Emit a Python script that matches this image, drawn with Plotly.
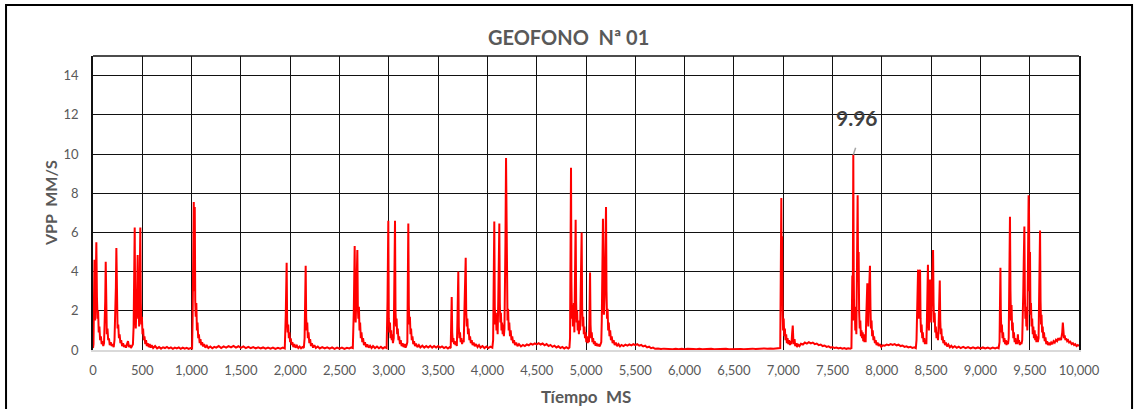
import plotly.graph_objects as go

# ---- Data ----
time_ms = [
    0, 5, 10, 15, 22, 28, 34, 40, 46, 52, 58, 65, 72, 80, 88, 96, 104, 112, 118, 124, 129, 134, 140, 147, 154, 162, 170, 180, 190, 200, 210,
    218, 226, 232, 237, 243, 249, 256, 263, 270, 278, 286, 295, 305, 315, 325, 335, 345, 355, 365, 375, 385, 395, 405,
    412, 418, 423, 428, 434, 440, 447, 453, 458, 463, 468, 474, 480, 485, 490, 496, 502, 508, 515, 522, 530, 538, 546, 555, 565, 575, 585, 595,
    610, 630, 650, 670, 690, 710, 730, 750, 770, 790, 810, 830, 850, 870, 890, 910, 930, 950, 970, 990, 1005,
    1010, 1016, 1022, 1027, 1032, 1037, 1042, 1048, 1054, 1060, 1067, 1074, 1082, 1090, 1098, 1107, 1117, 1127, 1140, 1155, 1170, 1190, 1210, 1230,
    1250, 1275, 1300, 1325, 1350, 1375, 1400, 1425, 1450, 1475, 1500, 1525, 1550, 1575, 1600, 1625, 1650, 1675, 1700, 1725, 1750, 1775, 1800, 1825,
    1850, 1875, 1900, 1925, 1945,
    1955, 1960, 1964, 1969, 1974, 1980, 1986, 1992, 1999, 2006, 2014, 2022, 2032, 2042, 2055, 2068, 2082, 2096, 2110, 2124, 2138,
    2146, 2151, 2157, 2162, 2167, 2173, 2179, 2186, 2194, 2202, 2211, 2220, 2232, 2245, 2260, 2280, 2300, 2325, 2350, 2375, 2400, 2425, 2450,
    2475, 2500, 2525, 2550, 2575, 2600, 2620, 2635,
    2645, 2650, 2654, 2659, 2664, 2670, 2675, 2681, 2686, 2691, 2697, 2703, 2709, 2716, 2723, 2731, 2739, 2748, 2758, 2770, 2782, 2796, 2810,
    2825, 2840, 2860, 2880, 2900, 2920, 2940, 2960, 2978,
    2987, 2991, 2995, 3000, 3006, 3012, 3018, 3024, 3030, 3036, 3042, 3050, 3056, 3063, 3068, 3073, 3079, 3085, 3091, 3098, 3105, 3113, 3121,
    3130, 3140, 3150, 3160, 3170, 3180, 3188, 3193, 3198, 3203, 3208, 3214, 3220, 3226, 3233, 3240, 3248, 3256, 3266, 3276, 3290, 3305, 3320,
    3340, 3360, 3380, 3400, 3420, 3440, 3460, 3480, 3500, 3520, 3540, 3560, 3580, 3600, 3615, 3628,
    3633, 3638, 3643, 3649, 3655, 3662, 3669, 3676, 3684, 3690, 3696, 3701, 3705, 3710, 3716, 3722, 3729, 3736, 3743, 3752, 3760, 3766, 3771,
    3776, 3780, 3785, 3791, 3797, 3803, 3810, 3817, 3824, 3832, 3841, 3850, 3860, 3872, 3885, 3900, 3915, 3930, 3950, 3970, 3990, 4010, 4030,
    4050, 4058,
    4063, 4067, 4070, 4075, 4080, 4086, 4092, 4098, 4104, 4110, 4116, 4121, 4126, 4131, 4137, 4143, 4149, 4155, 4161, 4167, 4173, 4178, 4183,
    4189, 4194, 4199, 4204, 4210, 4216, 4222, 4229, 4236, 4244, 4252, 4261, 4270, 4280, 4292, 4305, 4320, 4340, 4360, 4380, 4400, 4420, 4440,
    4460, 4480, 4500, 4520, 4540, 4560, 4580, 4600, 4620, 4640, 4660, 4680, 4700, 4720, 4740, 4760, 4780, 4800, 4820, 4832, 4838,
    4842, 4845, 4848, 4852, 4857, 4862, 4867, 4872, 4877, 4882, 4887, 4891, 4895, 4900, 4905, 4910, 4916, 4922, 4928, 4934, 4940, 4946, 4951,
    4956, 4961, 4966, 4972, 4978, 4984, 4990, 4996, 5003, 5010, 5017, 5024, 5030, 5035, 5041, 5046, 5052, 5058, 5065, 5072, 5080, 5088, 5097,
    5106, 5116, 5126, 5136, 5146, 5155, 5160, 5166, 5172, 5177, 5182, 5188, 5194, 5198, 5203, 5208, 5213, 5219, 5225, 5231, 5238, 5245, 5253,
    5261, 5270, 5280, 5291, 5303, 5316, 5330, 5345, 5360, 5380, 5400, 5420, 5440, 5460, 5480, 5500, 5520, 5540, 5560, 5580, 5600, 5620, 5640,
    5660, 5680, 5700, 5730, 5760, 5790, 5820, 5850, 5880, 5910, 5940, 5970, 6000, 6030, 6060, 6090, 6120, 6150, 6180, 6210, 6240, 6270, 6300,
    6330, 6360, 6390, 6420, 6450, 6480, 6510, 6540, 6570, 6600, 6630, 6660, 6690, 6720, 6750, 6780, 6810, 6840, 6870, 6900, 6930, 6960, 6970,
    6975, 6978, 6981, 6985, 6989, 6994, 6999, 7005, 7011, 7017, 7023, 7030, 7037, 7044, 7052, 7060, 7068, 7076, 7084, 7090, 7097, 7102, 7108,
    7115, 7122, 7130, 7140, 7150, 7165, 7180, 7200, 7220, 7240, 7260, 7280, 7300, 7320, 7340, 7360, 7380, 7400, 7420, 7440, 7460, 7480, 7500,
    7520, 7540, 7560, 7580, 7600, 7620, 7640, 7660, 7680, 7692,
    7697, 7701, 7705, 7708, 7711, 7715, 7720, 7726, 7731, 7737, 7742, 7746, 7750, 7755, 7760, 7765, 7770, 7776, 7782, 7788, 7794, 7800, 7806,
    7812, 7818, 7824, 7830, 7836, 7842, 7848, 7853, 7858, 7863, 7868, 7874, 7880, 7885, 7890, 7896, 7902, 7908, 7915, 7922, 7930, 7938, 7947,
    7957, 7968, 7980, 7994, 8010, 8030, 8050, 8070, 8090, 8110, 8130, 8150, 8170, 8190, 8210, 8230, 8250, 8270, 8290, 8310, 8330, 8345, 8352,
    8358, 8363, 8368, 8373, 8378, 8383, 8388, 8393, 8398, 8404, 8410, 8416, 8423, 8430, 8437, 8444, 8452, 8458, 8463, 8468, 8473, 8478, 8484,
    8490, 8496, 8502, 8508, 8514, 8520, 8525, 8530, 8536, 8542, 8548, 8555, 8562, 8570, 8576, 8582, 8588, 8593, 8598, 8604, 8610, 8617, 8624,
    8632, 8641, 8650, 8662, 8675, 8690, 8705, 8720, 8740, 8760, 8780, 8800, 8825, 8850, 8875, 8900, 8925, 8950, 8975, 9000, 9025, 9050, 9075,
    9100, 9125, 9150, 9170, 9185, 9194,
    9199, 9203, 9207, 9212, 9218, 9224, 9230, 9237, 9244, 9251, 9258, 9265, 9272, 9280, 9287, 9292, 9296, 9300, 9305, 9310, 9316, 9322, 9328,
    9334, 9340, 9347, 9354, 9361, 9368, 9374, 9380, 9385, 9392, 9400, 9408, 9416, 9424, 9430, 9435, 9440, 9446, 9451, 9456, 9461, 9466, 9471,
    9476, 9480, 9484, 9489, 9493, 9498, 9503, 9508, 9513, 9519, 9525, 9531, 9537, 9543, 9550, 9556, 9562, 9568, 9575, 9582, 9590, 9595, 9600,
    9605, 9610, 9615, 9620, 9626, 9632, 9638, 9645, 9652, 9660, 9668, 9677, 9686, 9696, 9706, 9718, 9730, 9742, 9754, 9766, 9778, 9790, 9800,
    9810, 9818, 9824, 9830, 9836, 9842, 9848, 9855, 9862, 9870, 9880, 9890, 9900, 9912, 9925, 9938, 9950, 9962, 9975, 9988, 10000,
]

vpp_mm_s = [
    0.1, 0.3, 2.6, 4.6, 1.5, 3.0, 5.5, 2.7, 1.6, 2.0, 0.9, 1.2, 0.5, 0.7, 0.3, 0.45, 0.2, 0.35, 1.3, 2.5, 4.5, 1.4, 0.8, 1.1, 0.5, 0.6, 0.25, 0.4, 0.2, 0.3, 0.15,
    0.5, 1.8, 3.2, 5.2, 1.8, 1.1, 1.3, 0.6, 0.8, 0.35, 0.5, 0.2, 0.35, 0.15, 0.25, 0.12, 0.3, 0.45, 0.15, 0.25, 0.1, 0.2, 0.3,
    1.2, 3.5, 6.25, 2.0, 1.1, 2.2, 3.0, 4.85, 1.6, 2.3, 1.2, 3.3, 6.25, 2.4, 1.3, 1.7, 0.8, 1.1, 0.5, 0.7, 0.3, 0.5, 0.2, 0.35, 0.15, 0.3, 0.12, 0.25,
    0.1, 0.2, 0.08, 0.15, 0.07, 0.14, 0.1, 0.16, 0.08, 0.13, 0.06, 0.12, 0.08, 0.13, 0.06, 0.12, 0.07, 0.11, 0.06, 0.1, 0.08,
    1.5, 5.5, 7.55, 3.0, 7.3, 2.5, 1.7, 2.4, 1.0, 1.4, 0.6, 0.8, 0.35, 0.55, 0.25, 0.4, 0.18, 0.3, 0.12, 0.22, 0.1, 0.18, 0.09, 0.16,
    0.12, 0.2, 0.1, 0.18, 0.12, 0.2, 0.13, 0.21, 0.12, 0.19, 0.11, 0.18, 0.1, 0.16, 0.09, 0.15, 0.08, 0.14, 0.08, 0.13, 0.07, 0.12, 0.07, 0.12,
    0.06, 0.11, 0.07, 0.12, 0.08,
    1.8, 3.5, 4.45, 1.5, 0.9, 1.3, 0.6, 0.9, 0.4, 0.6, 0.25, 0.4, 0.15, 0.3, 0.12, 0.22, 0.1, 0.18, 0.09, 0.15, 0.1,
    0.6, 2.6, 4.3, 1.7, 1.0, 1.4, 0.6, 0.9, 0.35, 0.55, 0.2, 0.35, 0.12, 0.25, 0.1, 0.18, 0.08, 0.15, 0.08, 0.14, 0.07, 0.13, 0.06,
    0.12, 0.07, 0.12, 0.06, 0.11, 0.08, 0.13, 0.1,
    2.0, 4.0, 5.3, 2.0, 1.4, 2.6, 3.8, 5.1, 2.2, 1.6, 2.2, 1.0, 1.4, 0.6, 0.9, 0.4, 0.6, 0.25, 0.4, 0.15, 0.28, 0.12, 0.22,
    0.1, 0.2, 0.1, 0.18, 0.09, 0.16, 0.08, 0.15, 0.1,
    2.5, 5.0, 6.6, 1.6, 0.9, 1.4, 0.6, 1.0, 0.5, 0.8, 0.35, 0.6, 3.8, 6.6, 2.0, 1.2, 1.6, 0.8, 1.1, 0.5, 0.7, 0.3, 0.5,
    0.2, 0.35, 0.15, 0.3, 0.12, 0.25, 0.4, 3.5, 6.45, 2.3, 1.3, 1.7, 0.8, 1.1, 0.5, 0.7, 0.3, 0.45, 0.2, 0.32, 0.15, 0.25, 0.13,
    0.22, 0.12, 0.2, 0.13, 0.21, 0.12, 0.2, 0.13, 0.2, 0.12, 0.18, 0.1, 0.16, 0.08, 0.14, 0.1,
    1.4, 2.7, 0.9, 0.4, 0.6, 0.3, 0.45, 0.25, 0.4, 0.2, 1.5, 2.8, 4.0, 1.2, 0.6, 0.9, 0.4, 0.6, 0.3, 0.5, 0.4, 1.8, 3.5,
    4.2, 4.7, 2.0, 1.2, 1.6, 0.8, 1.1, 0.5, 0.7, 0.35, 0.5, 0.25, 0.38, 0.2, 0.3, 0.15, 0.25, 0.12, 0.2, 0.1, 0.18, 0.1, 0.17,
    0.12, 0.5,
    3.0, 5.2, 6.55, 2.2, 1.3, 1.9, 1.0, 1.5, 0.8, 2.5, 4.8, 6.45, 2.4, 1.4, 1.9, 1.0, 1.4, 0.8, 1.3, 0.7, 1.1, 2.5, 5.5,
    9.8, 5.3, 2.5, 1.5, 2.1, 1.0, 1.4, 0.7, 1.0, 0.5, 0.7, 0.35, 0.5, 0.25, 0.38, 0.2, 0.3, 0.18, 0.26, 0.2, 0.28, 0.24, 0.32,
    0.27, 0.34, 0.29, 0.35, 0.28, 0.33, 0.24, 0.3, 0.2, 0.26, 0.16, 0.22, 0.13, 0.19, 0.1, 0.16, 0.08, 0.14, 0.08, 0.13, 0.6,
    4.0, 7.5, 9.3, 3.5, 1.6, 2.3, 1.2, 1.8, 2.4, 0.9, 2.8, 4.8, 6.65, 2.5, 1.4, 2.0, 1.0, 1.5, 0.8, 1.4, 1.0, 3.0, 4.5,
    6.0, 2.2, 1.2, 1.7, 0.8, 1.2, 0.6, 0.9, 0.4, 0.7, 0.35, 0.6, 0.4, 1.6, 3.95, 1.3, 0.6, 0.9, 0.4, 0.6, 0.3, 0.45, 0.22,
    0.35, 0.2, 0.3, 0.18, 0.28, 0.4, 1.5, 4.5, 6.7, 2.5, 1.8, 2.7, 4.0, 5.5, 7.3, 3.0, 1.6, 2.1, 1.0, 1.4, 0.7, 1.0, 0.5,
    0.7, 0.35, 0.5, 0.25, 0.38, 0.2, 0.3, 0.18, 0.26, 0.2, 0.27, 0.22, 0.29, 0.24, 0.3, 0.25, 0.3, 0.22, 0.26, 0.18, 0.22, 0.13, 0.17,
    0.09, 0.12, 0.06, 0.08, 0.05, 0.07, 0.05, 0.06, 0.04, 0.06, 0.04, 0.06, 0.04, 0.06, 0.04, 0.05, 0.04, 0.06, 0.04, 0.05, 0.04, 0.06, 0.04,
    0.05, 0.05, 0.04, 0.06, 0.04, 0.05, 0.04, 0.06, 0.05, 0.04, 0.06, 0.05, 0.07, 0.05, 0.07, 0.06, 0.08, 0.06, 0.08, 0.06, 0.08, 0.07, 0.1,
    3.5, 6.0, 7.75, 3.0, 5.8, 2.0, 1.0, 1.6, 0.7, 1.1, 0.5, 0.8, 0.35, 0.6, 0.3, 0.5, 0.25, 0.45, 0.3, 0.8, 1.25, 0.6, 0.3,
    0.55, 0.2, 0.35, 0.15, 0.28, 0.2, 0.32, 0.28, 0.38, 0.33, 0.4, 0.34, 0.38, 0.3, 0.33, 0.25, 0.28, 0.2, 0.23, 0.16, 0.19, 0.12, 0.15,
    0.1, 0.13, 0.08, 0.11, 0.07, 0.1, 0.06, 0.09, 0.07, 0.1,
    2.0, 3.8, 1.5, 5.0, 9.96, 4.0, 1.5, 2.2, 1.0, 1.4, 0.8, 3.0, 5.5, 7.9, 3.5, 5.0, 2.0, 1.1, 1.5, 0.7, 1.0, 0.6, 0.9,
    0.45, 0.8, 0.4, 0.6, 0.4, 1.6, 2.8, 3.4, 2.0, 1.2, 2.6, 3.6, 4.3, 2.2, 1.1, 1.5, 0.7, 1.0, 0.5, 0.7, 0.35, 0.5, 0.25,
    0.38, 0.2, 0.3, 0.16, 0.24, 0.22, 0.28, 0.25, 0.3, 0.26, 0.3, 0.24, 0.27, 0.2, 0.23, 0.16, 0.19, 0.13, 0.16, 0.11, 0.14, 0.1, 0.5,
    2.0, 3.3, 4.1, 1.6, 2.5, 4.1, 4.1, 1.6, 0.9, 1.3, 0.6, 0.9, 0.4, 0.6, 0.3, 0.5, 0.3, 1.6, 3.2, 4.35, 1.5, 1.0, 2.5,
    3.6, 2.2, 1.4, 3.0, 4.2, 5.1, 2.4, 1.4, 1.9, 0.9, 1.2, 0.6, 0.9, 0.5, 1.2, 2.5, 3.55, 1.5, 0.8, 1.1, 0.5, 0.7, 0.35,
    0.5, 0.25, 0.38, 0.18, 0.28, 0.14, 0.22, 0.12, 0.19, 0.11, 0.17, 0.1, 0.16, 0.09, 0.15, 0.08, 0.14, 0.08, 0.13, 0.08, 0.13, 0.08, 0.12,
    0.07, 0.12, 0.08, 0.12, 0.09, 0.4,
    2.5, 4.2, 2.0, 0.9, 1.3, 0.6, 0.9, 0.4, 0.6, 0.3, 0.5, 0.25, 0.45, 0.3, 0.6, 2.8, 5.0, 6.8, 3.0, 1.5, 2.3, 1.0, 1.4,
    0.6, 0.9, 0.4, 0.6, 0.3, 0.5, 0.3, 0.8, 0.35, 0.5, 0.25, 0.4, 0.3, 0.5, 1.5, 3.0, 4.6, 6.3, 2.8, 1.6, 2.2, 1.2, 1.9,
    1.0, 3.5, 5.5, 7.9, 7.0, 3.0, 5.0, 1.8, 2.4, 1.2, 1.6, 0.8, 1.2, 0.6, 1.0, 0.5, 0.8, 0.4, 0.7, 0.4, 0.6, 2.5, 4.5,
    6.1, 2.5, 1.3, 1.8, 0.9, 1.2, 0.6, 0.9, 0.45, 0.65, 0.3, 0.45, 0.25, 0.38, 0.25, 0.38, 0.3, 0.45, 0.38, 0.52, 0.45, 0.6, 0.5,
    0.62, 0.5, 0.7, 0.9, 1.4, 0.9, 0.6, 0.75, 0.5, 0.6, 0.45, 0.5, 0.38, 0.42, 0.3, 0.35, 0.25, 0.3, 0.2, 0.25, 0.2,
]

x_tick_values = list(range(0, 10001, 500))
y_tick_values = [0, 2, 4, 6, 8, 10, 12, 14]

chart_title = "GEOFONO  Nª 01"
x_title = "Tíempo  MS"
y_title = "VPP  MM/S"
peak_label = "9.96"
peak_time = 7711
peak_value = 9.96

FONT = "Lato"
GREY = "#595959"

fig = go.Figure()
fig.add_trace(go.Scatter(
    x=time_ms, y=vpp_mm_s, mode="lines",
    line=dict(color="#ff0000", width=2),
    hoverinfo="x+y", showlegend=False,
))

fig.update_layout(
    width=1136, height=409,
    margin=dict(l=93, r=57, t=56, b=59),
    paper_bgcolor="white", plot_bgcolor="white",
    font=dict(family=FONT, color=GREY, size=13),
    showlegend=False,
)

fig.update_xaxes(
    range=[0, 10000], tickvals=x_tick_values, tickformat=",d",
    showgrid=True, gridcolor="#111111", gridwidth=1,
    zeroline=False, showline=True, linecolor="#d9d9d9", linewidth=2,
    ticks="", ticklabelstandoff=7,
    tickfont=dict(family=FONT, size=13, color=GREY),
)
fig.update_yaxes(
    range=[0, 15], tickvals=y_tick_values,
    showgrid=True, gridcolor="#111111", gridwidth=1,
    zeroline=False, showline=True, linecolor="#111111", linewidth=1.5, mirror=True,
    ticks="", ticklabelstandoff=10,
    tickfont=dict(family=FONT, size=13, color=GREY),
)

# top border of the plot area and outer chart frame
fig.add_shape(type="line", xref="paper", yref="paper", x0=0, x1=1, y0=1, y1=1,
              line=dict(color="#111111", width=1.5))
fig.add_shape(type="rect", xref="paper", yref="paper",
              x0=-0.0882, x1=1.0538, y0=-0.25, y1=1.1735,
              line=dict(color="black", width=2), layer="above")

# titles
fig.add_annotation(text=f"<b>{chart_title}</b>", xref="paper", yref="paper",
                   x=(568 - 93) / 986, y=(350 - 37) / 294, showarrow=False,
                   xanchor="center", yanchor="middle",
                   font=dict(family=FONT, size=20, color=GREY))
fig.add_annotation(text=f"<b>{x_title}</b>", xref="paper", yref="paper",
                   x=0.5, y=(350 - 396) / 294, showarrow=False,
                   xanchor="center", yanchor="middle",
                   font=dict(family=FONT, size=17, color=GREY))
fig.add_annotation(text=f"<b>{y_title}</b>", xref="paper", yref="paper",
                   x=(50 - 93) / 986, y=0.5, showarrow=False, textangle=-90,
                   xanchor="center", yanchor="middle",
                   font=dict(family=FONT, size=16, color=GREY))

# data label for the maximum
fig.add_annotation(text=" ", x=peak_time, y=peak_value, showarrow=True,
                   arrowhead=0, arrowwidth=1.5, arrowcolor="#a6a6a6",
                   ax=3, ay=-9, font=dict(size=1))
fig.add_annotation(text=f"<b>{peak_label}</b>", x=peak_time, y=peak_value,
                   showarrow=False, xshift=4, yshift=37,
                   font=dict(family=FONT, size=21, color="#404040"))

fig.write_html("out.html", config={"displayModeBar": False},
               post_script="document.body.style.margin='0';")
